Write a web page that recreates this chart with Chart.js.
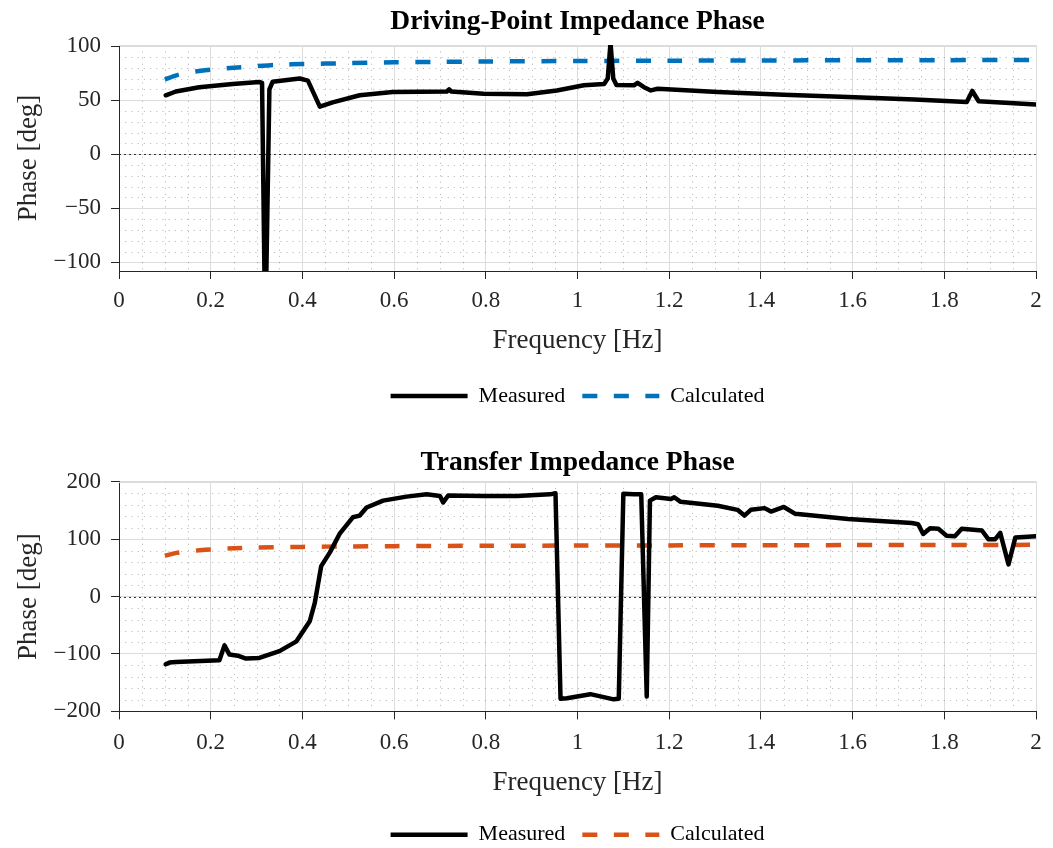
<!DOCTYPE html>
<html>
<head>
<meta charset="utf-8">
<title>Impedance Phase</title>
<script src="https://cdn.jsdelivr.net/npm/chart.js@4.4.1/dist/chart.umd.min.js"></script>
<style>
  html, body { margin: 0; padding: 0; background: #fff; overflow: hidden; }
  .panel { position: absolute; left: 0; width: 1053px; height: 424px; }
</style>
</head>
<body>
<div class="panel" style="top:0"><canvas id="dpChart" width="1053" height="424"></canvas></div>
<div class="panel" style="top:440px"><canvas id="tfChart" width="1053" height="424"></canvas></div>
<script>
// ---- values ----
const xTicks = [0, 0.2, 0.4, 0.6, 0.8, 1, 1.2, 1.4, 1.6, 1.8, 2];
const dpYTicks = [-100, -50, 0, 50, 100];
const tfYTicks = [-200, -100, 0, 100, 200];
const seriesNames = ['Measured', 'Calculated'];

// driving-point impedance phase
const dpMeasFreq = [0.102, 0.124, 0.175, 0.248, 0.306, 0.312, 0.319, 0.328, 0.335, 0.394, 0.412, 0.438,
  0.466, 0.525, 0.597, 0.715, 0.72, 0.725, 0.795, 0.89, 0.955, 1.014, 1.058, 1.066, 1.072, 1.078, 1.085,
  1.123, 1.131, 1.145, 1.16, 1.175, 1.306, 1.45, 1.59, 1.735, 1.849, 1.861, 1.875, 2.0];
const dpMeasPhase = [54.5, 58, 62, 65, 66.8, 66, -170, 60, 67, 70, 68, 44,
  48, 54.5, 57.5, 58, 60, 58, 56, 55.5, 59, 63.7, 65, 70, 103, 70, 64,
  63.7, 66, 62, 59, 60.5, 57.5, 55, 53, 50.5, 48.3, 58.5, 49, 46];
const dpCalcFreq = [0.1, 0.125, 0.15, 0.175, 0.2, 0.25, 0.3, 0.35, 0.4, 0.5, 0.6, 0.7, 0.8, 1.0, 1.2, 1.4, 1.6, 1.8, 2.0];
const dpCalcPhase = [69, 73, 75.5, 77, 78.2, 80, 81.5, 82.7, 83.4, 84.2, 85, 85.4, 85.8, 86.2, 86.5, 86.7, 86.9, 87, 87.1];

// transfer impedance phase
const tfMeasFreq = [0.102, 0.11, 0.124, 0.219, 0.23, 0.241, 0.259, 0.277, 0.306, 0.35, 0.387, 0.416, 0.427,
  0.441, 0.46, 0.481, 0.51, 0.525, 0.54, 0.576, 0.627, 0.671, 0.7, 0.707, 0.718, 0.795, 0.868, 0.94, 0.952,
  0.963, 0.977, 1.028, 1.079, 1.09, 1.1, 1.123, 1.139, 1.151, 1.158, 1.171, 1.204, 1.211, 1.225, 1.306,
  1.349, 1.364, 1.378, 1.408, 1.422, 1.45, 1.475, 1.59, 1.729, 1.743, 1.754, 1.769, 1.787, 1.805, 1.823,
  1.838, 1.882, 1.896, 1.911, 1.922, 1.94, 1.955, 2.0];
const tfMeasPhase = [-118, -115, -114, -111, -85, -101, -103, -108, -107, -95, -78, -43, -11,
  53, 77, 109, 138, 141, 155, 167, 174, 178, 175, 164, 176, 175, 175, 178, 180,
  -178, -177, -170, -179, -178, 179, 178, 178, -174, 167, 173, 170, 173, 165, 158,
  151, 141, 151, 154, 148, 156, 144, 135, 128, 126, 109, 119, 118, 106, 105,
  118, 115, 100, 100, 111, 56, 103, 105];
const tfCalcFreq = [0.1, 0.125, 0.15, 0.175, 0.2, 0.25, 0.3, 0.4, 0.5, 0.6, 0.8, 1.0, 1.2, 1.4, 1.6, 1.8, 2.0];
const tfCalcPhase = [71, 76, 78.5, 80.5, 82, 84, 85.3, 86.5, 87.3, 87.8, 88.4, 88.8, 89.1, 89.4, 89.6, 89.8, 90];

// ---- styling ----
const SERIF = "'Liberation Serif', 'Times New Roman', serif";
const AXIS_INK = '#262626';
const GRID = '#dcdcdc';
const DASH = [15, 16.5];

function pts(xs, ys) {
  return xs.map((x, i) => ({ x: x, y: ys[i] }));
}

function fmt(v) {
  const s = String(+v.toFixed(2));
  return v < 0 ? '\u2212' + s.slice(1) : s;
}

// MATLAB-like dotted minor grid, light top edge and dotted zero line
const minorGrid = {
  id: 'minorGrid',
  beforeDatasetsDraw(chart, args, opts) {
    const { ctx, chartArea: a } = chart;
    const xs = chart.scales.x, ys = chart.scales.y;
    const crisp = p => Math.round(p) + 0.5;
    ctx.save();
    ctx.lineWidth = 1;
    ctx.strokeStyle = 'rgba(38,38,38,0.3)';
    ctx.setLineDash([1.2, 5]);
    ctx.beginPath();
    for (let i = 1; i * opts.xStep < xs.max; i++) {
      if (i % opts.xEvery === 0) continue;
      const px = crisp(xs.getPixelForValue(i * opts.xStep));
      ctx.moveTo(px, a.top); ctx.lineTo(px, a.bottom);
    }
    const first = Math.ceil(ys.min / opts.yStep);
    for (let i = first; i * opts.yStep < ys.max; i++) {
      if (i % opts.yEvery === 0) continue;
      const py = crisp(ys.getPixelForValue(i * opts.yStep));
      ctx.moveTo(a.left, py); ctx.lineTo(a.right, py);
    }
    ctx.stroke();

    // light box edge on top
    ctx.setLineDash([]);
    ctx.strokeStyle = GRID;
    ctx.beginPath();
    ctx.moveTo(a.left, crisp(a.top)); ctx.lineTo(a.right, crisp(a.top));
    ctx.stroke();

    // dotted zero line
    ctx.strokeStyle = '#333';
    ctx.setLineDash([2, 3]);
    ctx.beginPath();
    const zy = crisp(ys.getPixelForValue(0));
    ctx.moveTo(a.left, zy); ctx.lineTo(a.right, zy);
    ctx.stroke();
    ctx.restore();
  }
};

function legendItems(chart) {
  return chart.data.datasets.map((ds, i) => ({
    text: ds.label,
    datasetIndex: i,
    hidden: false,
    fillStyle: ds.borderColor,
    strokeStyle: ds.borderColor,
    lineWidth: ds.borderWidth,
    lineDash: ds.borderDash || [],
    lineCap: 'butt',
    pointStyle: 'line',
    fontColor: '#000'
  }));
}

function makeChart(id, o) {
  return new Chart(document.getElementById(id), {
    type: 'line',
    data: {
      datasets: [{
        label: seriesNames[0],
        data: pts(o.measFreq, o.measPhase),
        borderColor: '#000',
        backgroundColor: '#000',
        borderWidth: 4.5,
        borderJoinStyle: 'round',
        borderCapStyle: 'round',
        pointRadius: 0,
        tension: 0
      }, {
        label: seriesNames[1],
        data: pts(o.calcFreq, o.calcPhase),
        borderColor: o.calcColor,
        backgroundColor: o.calcColor,
        borderWidth: 4.5,
        borderDash: DASH,
        pointRadius: 0,
        tension: 0.3
      }]
    },
    options: {
      responsive: false,
      animation: false,
      devicePixelRatio: 1,
      layout: { padding: { left: 0, right: 17, top: 0, bottom: o.padBottom } },
      scales: {
        x: {
          type: 'linear',
          min: 0,
          max: 2,
          afterBuildTicks: s => { s.ticks = xTicks.map(v => ({ value: v })); },
          afterFit: s => { s.height = o.xAxisH; },
          ticks: {
            callback: v => fmt(v),
            font: { family: SERIF, size: 23 },
            color: AXIS_INK,
            padding: o.xTickPad,
            maxRotation: 0,
            autoSkip: false
          },
          grid: { color: GRID, tickColor: AXIS_INK, tickLength: 8, tickWidth: 1 },
          border: { color: AXIS_INK, width: 1 },
          title: {
            display: true,
            text: 'Frequency [Hz]',
            font: { family: SERIF, size: 27 },
            color: AXIS_INK,
            padding: { top: 0, bottom: o.xTitlePad }
          }
        },
        y: {
          min: o.yMin,
          max: o.yMax,
          afterBuildTicks: s => { s.ticks = o.yTicks.map(v => ({ value: v })); },
          afterFit: s => { s.width = 119; },
          ticks: {
            callback: v => fmt(v),
            font: { family: SERIF, size: 23 },
            color: AXIS_INK,
            padding: 10
          },
          grid: { color: GRID, tickColor: AXIS_INK, tickLength: 8, tickWidth: 1 },
          border: { color: AXIS_INK, width: 1 },
          title: {
            display: true,
            text: 'Phase [deg]',
            font: { family: SERIF, size: 27 },
            color: AXIS_INK,
            padding: { top: 12.3, bottom: 0 }
          }
        }
      },
      plugins: {
        title: {
          display: true,
          text: o.title,
          fullSize: false,
          font: { family: SERIF, size: 27.5, weight: 'bold' },
          color: '#000',
          padding: { top: o.titleTop, bottom: o.titleBottom }
        },
        legend: {
          position: 'bottom',
          fullSize: false,
          labels: {
            usePointStyle: true,
            pointStyle: 'line',
            pointStyleWidth: 77,
            font: { family: SERIF, size: 22 },
            color: '#000',
            padding: 17,
            generateLabels: legendItems
          }
        },
        tooltip: { enabled: false },
        minorGrid: { xStep: 0.05, xEvery: 4, yStep: o.yMinor, yEvery: o.yMinorEvery }
      }
    },
    plugins: [minorGrid]
  });
}

makeChart('dpChart', {
  title: 'Driving-Point Impedance Phase',
  measFreq: dpMeasFreq, measPhase: dpMeasPhase,
  calcFreq: dpCalcFreq, calcPhase: dpCalcPhase,
  calcColor: '#0072BD',
  yMin: -108, yMax: 101, yTicks: dpYTicks, yMinor: 10, yMinorEvery: 5,
  titleTop: 5.5, titleBottom: 6.5,
  padBottom: 7, xAxisH: 97, xTickPad: 8.2, xTitlePad: 11.3
});

makeChart('tfChart', {
  title: 'Transfer Impedance Phase',
  measFreq: tfMeasFreq, measPhase: tfMeasPhase,
  calcFreq: tfCalcFreq, calcPhase: tfCalcPhase,
  calcColor: '#D95319',
  yMin: -200, yMax: 200, yTicks: tfYTicks, yMinor: 20, yMinorEvery: 5,
  titleTop: 6.5, titleBottom: 2.2,
  padBottom: 8.3, xAxisH: 95.3, xTickPad: 9.8, xTitlePad: 8
});
</script>
</body>
</html>
